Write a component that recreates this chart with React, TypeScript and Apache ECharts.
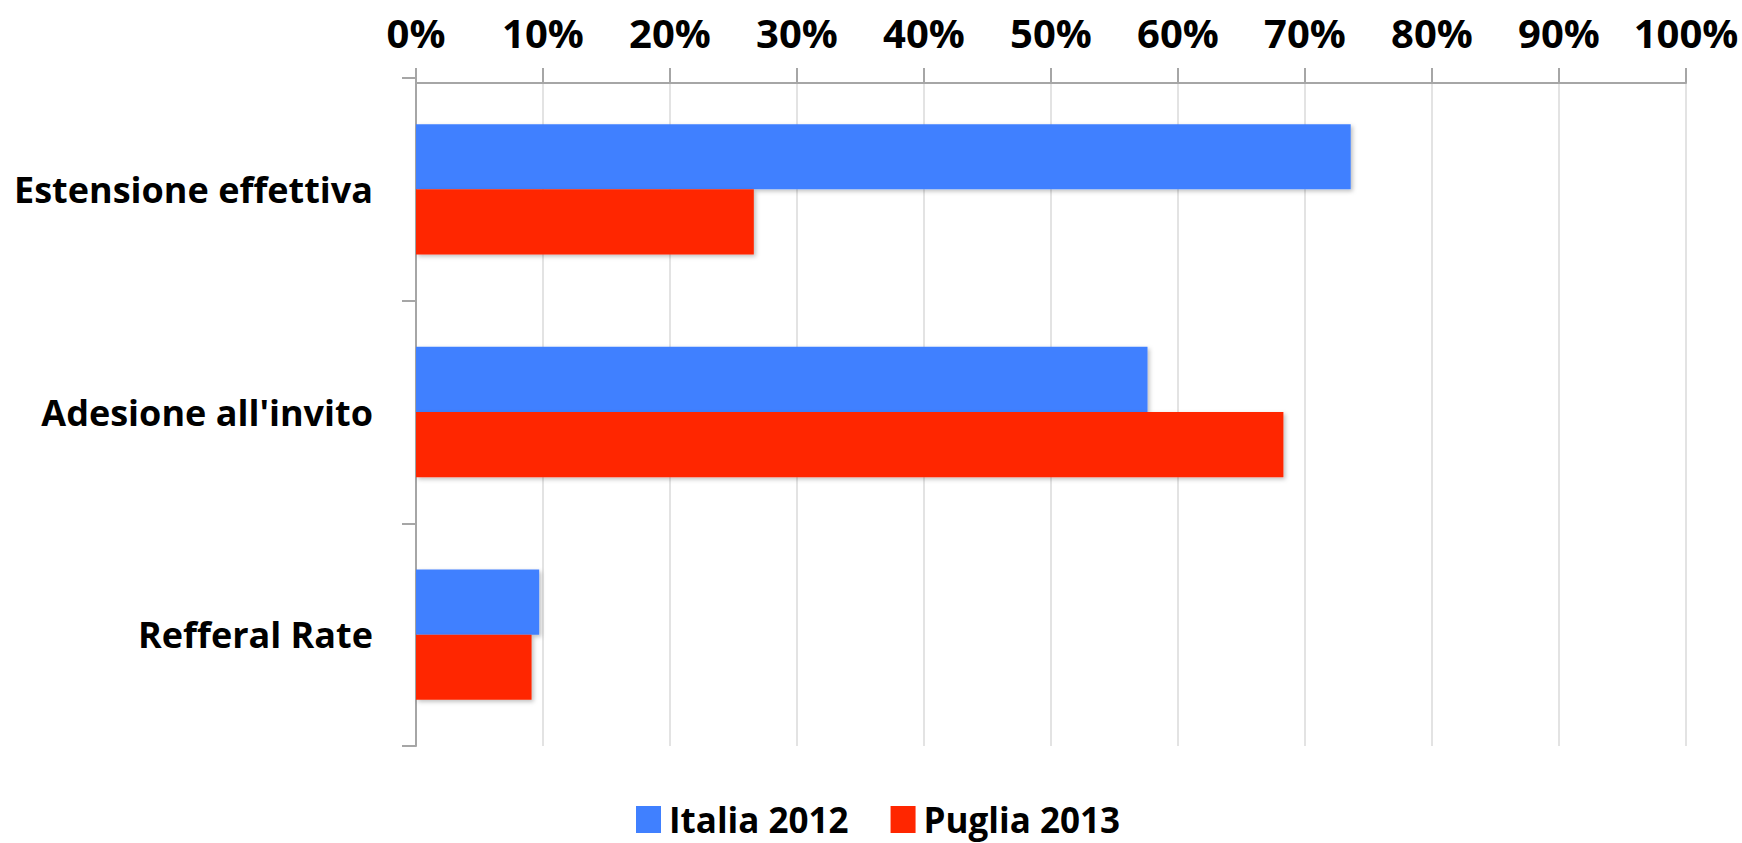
import React, { useEffect, useRef } from "react";
import * as echarts from "echarts";

const categories = ["Estensione effettiva", "Adesione all'invito", "Refferal Rate"];
const italia2012 = [73.6, 57.6, 9.7];
const puglia2013 = [26.6, 68.3, 9.1];
const seriesNames = ["Italia 2012", "Puglia 2013"];
const FONT = "'Open Sans', 'Noto Sans', sans-serif";

export default function App() {
  const ref = useRef<HTMLDivElement>(null);
  useEffect(() => {
    if (!ref.current) return;
    const chart = echarts.init(ref.current, null, { renderer: "svg" });
    const shadow = {
      shadowBlur: 4,
      shadowOffsetX: 2,
      shadowOffsetY: 2,
      shadowColor: "rgba(0,0,0,0.25)",
    };
    chart.setOption({
      animation: false,
      backgroundColor: "#ffffff",
      grid: { left: 416, right: 56, top: 78, bottom: 97 },
      legend: {
        left: 631,
        top: 797,
        itemWidth: 25,
        itemHeight: 27,
        itemGap: 42,
        icon: "rect",
        textStyle: { fontFamily: FONT, fontWeight: "bold", fontSize: 35, color: "#000", padding: [0, 0, 0, 3] },
        data: seriesNames,
      },
      xAxis: {
        type: "value",
        position: "top",
        offset: -5,
        min: 0,
        max: 100,
        interval: 10,
        axisLine: { show: true, lineStyle: { color: "#a6a6a6", width: 2 } },
        axisTick: { show: true, length: 15, lineStyle: { color: "#a6a6a6", width: 2 } },
        splitLine: { show: true, lineStyle: { color: "#e3e3e3", width: 2 } },
        axisLabel: {
          formatter: "{value}%",
          fontFamily: FONT,
          fontWeight: "bold",
          fontSize: 40,
          color: "#000",
          margin: 31,
        },
      },
      yAxis: {
        type: "category",
        inverse: true,
        data: categories,
        axisLine: { show: true, lineStyle: { color: "#a6a6a6", width: 2 } },
        axisTick: { show: true, length: 14, alignWithLabel: false, lineStyle: { color: "#a6a6a6", width: 2 } },
        axisLabel: {
          fontFamily: FONT,
          fontWeight: "bold",
          fontSize: 36,
          color: "#000",
          margin: 43,
        },
      },
      series: [
        {
          name: seriesNames[0],
          type: "bar",
          data: italia2012,
          barGap: "0%",
          barCategoryGap: "41.5%",
          itemStyle: { color: "#4080FF", ...shadow },
        },
        {
          name: seriesNames[1],
          type: "bar",
          data: puglia2013,
          barGap: "0%",
          barCategoryGap: "41.5%",
          itemStyle: { color: "#FF2600", ...shadow },
        },
      ],
    });
    return () => chart.dispose();
  }, []);
  return (
    <div
      ref={ref}
      style={{ position: "fixed", left: 0, top: 0, width: 1742, height: 843 }}
    />
  );
}
